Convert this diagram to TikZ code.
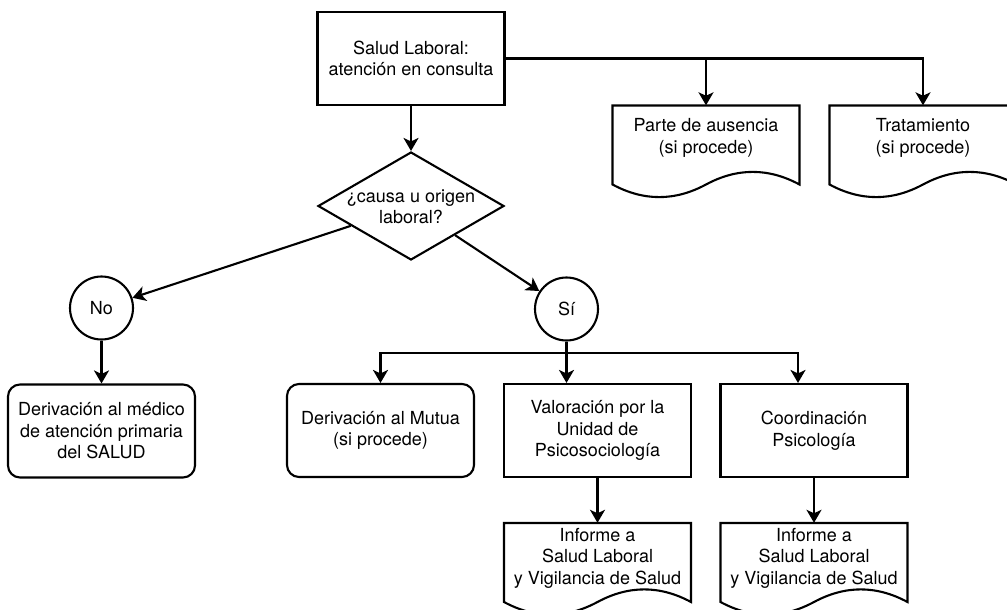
\documentclass[tikz,border=0pt]{standalone}
\usepackage{fontspec}
\setmainfont{TeX Gyre Heros}
\usetikzlibrary{arrows.meta,shapes.geometric,calc}
\newcommand{\docoutline}[2]{%
  \begin{scope}[shift={(#1,#2)}]
    \draw[ln] (-93.5,0) -- (93.5,0) -- (93.5,79)
      .. controls (62.33,62.2) and (31.17,62.2) .. (0,79)
      .. controls (-31.17,95.8) and (-62.33,95.8) .. (-93.5,79) -- cycle;
  \end{scope}}
\begin{document}
\begin{tikzpicture}[x=1pt,y=-1pt,
  every node/.style={font=\fontsize{18}{21.5}\selectfont, align=center, inner sep=0pt},
  ln/.style={line width=2.1pt},
  arr/.style={ln,-{Stealth[length=13pt,width=15pt,inset=3.5pt]}},
  procbox/.style={draw, ln, minimum width=187pt, minimum height=93pt},
  termbox/.style={procbox, rounded corners=12pt},
  decbox/.style={draw, ln, diamond, minimum width=186pt, minimum height=108pt},
  circ/.style={draw, ln, circle, minimum size=63pt},
  docbox/.style={minimum width=187pt, minimum height=93pt}]
\useasboundingbox (0,0) rectangle (1007,610);

% top box
\node[procbox] (top) at (411,58.5) {Salud Laboral:\\atención en consulta};

% documents top right
\node[docbox] (parte) at (706,152) {};
\docoutline{706}{105.5}
\node (parte-t) at (706,138) {Parte de ausencia\\(si procede)};
\node[docbox] (trat) at (923,152) {};
\docoutline{923}{105.5}
\node (trat-t) at (923,138) {Tratamiento\\(si procede)};

% decision
\node[decbox] (dia) at (411,206) {};
\node (dia-t) at (411,207) {¿causa u origen\\laboral?};

% circles
\node[circ] (no) at (101.5,308) {No};
\node[circ] (si) at (566.5,309) {Sí};

% row of boxes
\node[termbox] (deriv) at (101.5,431) {Derivación al médico\\de atención primaria\\del SALUD};
\node[termbox] (mutua) at (380.5,430.5) {Derivación al Mutua\\(si procede)};
\node[procbox] (val) at (597.5,430.5) {Valoración por la\\Unidad de\\Psicosociología};
\node[procbox] (coord) at (814,430.5) {Coordinación\\Psicología};

% bottom documents
\node[docbox] (inf1) at (597.5,569.5) {};
\docoutline{597.5}{523}
\node (inf1-t) at (597.5,558) {Informe a\\Salud Laboral\\y Vigilancia de Salud};
\node[docbox] (inf2) at (814,569.5) {};
\docoutline{814}{523}
\node (inf2-t) at (814,558) {Informe a\\Salud Laboral\\y Vigilancia de Salud};

% connectors
\coordinate (tj) at (706,58.5);
\draw[arr] (top.east) -| (trat.north);
\draw[arr] (tj) -- (parte.north);
\draw[arr] (top.south) -- (dia.north);
\draw[arr] (dia) -- (no);
\draw[arr] (dia) -- (si);
\draw[arr] (no.south) -- (deriv.north);
\coordinate (sj) at (566.5,353);
\coordinate (ct) at ($(coord.north)+(-16,0)$);
\draw[arr] (si.south) -- (si.south |- val.north);
\draw[arr] (sj) -| (mutua.north);
\draw[arr] (sj) -| (ct);
\draw[arr] (val.south) -- (inf1.north);
\draw[arr] (coord.south) -- (inf2.north);
\end{tikzpicture}
\end{document}
